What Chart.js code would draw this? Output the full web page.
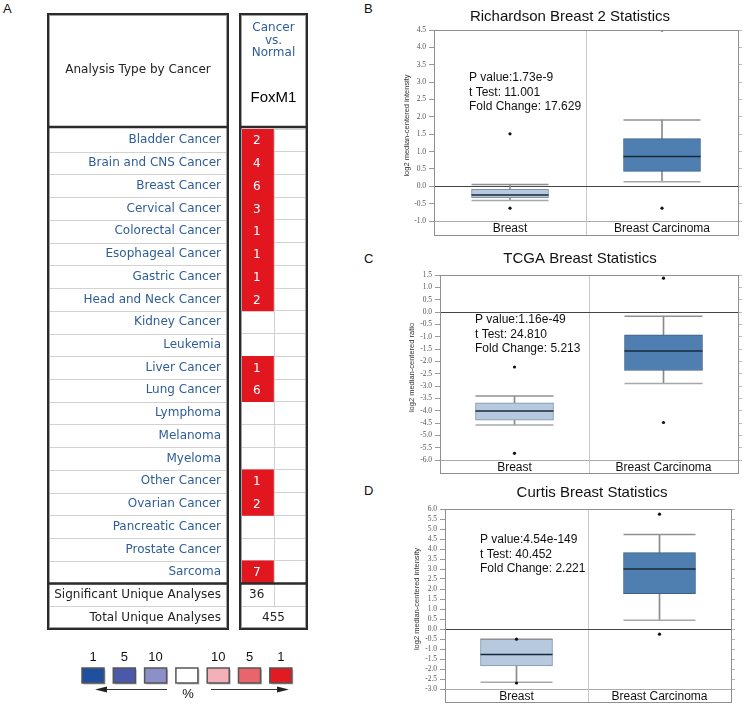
<!DOCTYPE html>
<html>
<head>
<meta charset="utf-8">
<script src="https://cdn.jsdelivr.net/npm/chart.js@4/dist/chart.umd.min.js"></script>
<style>
  body { margin: 0; background: #fff; width: 744px; height: 704px; position: relative; overflow: hidden; }
  canvas { position: absolute; }
  .panel { position: absolute; font: 13px "Liberation Sans", Arial, sans-serif; color: #111; }
</style>
</head>
<body>
<div class="panel" style="left:3px;top:1px">A</div>
<div class="panel" style="left:364px;top:1px">B</div>
<div class="panel" style="left:364px;top:251px">C</div>
<div class="panel" style="left:364px;top:483px">D</div>

<canvas id="tableA" width="320" height="704" style="left:0;top:0"></canvas>
<canvas id="chartB" width="384" height="240" style="left:360px;top:0"></canvas>
<canvas id="chartC" width="384" height="236" style="left:360px;top:240px"></canvas>
<canvas id="chartD" width="384" height="238" style="left:360px;top:466px"></canvas>

<script>
// ---------- DATA: panel A (Oncomine summary) ----------
const cancerTypes = [
  "Bladder Cancer", "Brain and CNS Cancer", "Breast Cancer", "Cervical Cancer",
  "Colorectal Cancer", "Esophageal Cancer", "Gastric Cancer", "Head and Neck Cancer",
  "Kidney Cancer", "Leukemia", "Liver Cancer", "Lung Cancer", "Lymphoma", "Melanoma",
  "Myeloma", "Other Cancer", "Ovarian Cancer", "Pancreatic Cancer", "Prostate Cancer", "Sarcoma"
];
const upCounts = [2, 4, 6, 3, 1, 1, 1, 2, 0, 0, 1, 6, 0, 0, 0, 1, 2, 0, 0, 7];
const summaryLabels = ["Significant Unique Analyses", "Total Unique Analyses"];
const summaryValues = [36, 455];
const geneName = "FoxM1";
const headerLines = ["Cancer", "vs.", "Normal"];
const legendTicks = ["1", "5", "10", "", "10", "5", "1"];
const legendColors = ["#1f4f9f", "#4a59a9", "#8d90c8", "#ffffff", "#f3b0b7", "#e8666b", "#e01b22"];

// ---------- DATA: box plots ----------
const groups = ["Breast", "Breast Carcinoma"];

// Richardson Breast 2
const richLow = [-0.41, 0.13];
const richQ1 = [-0.33, 0.43];
const richMedian = [-0.25, 0.86];
const richQ3 = [-0.09, 1.37];
const richHigh = [0.05, 1.91];
const richOutTop = [1.51, 4.50];
const richOutBottom = [-0.63, -0.63];
const richStats = ["P value:1.73e-9", "t Test: 11.001", "Fold Change: 17.629"];

// TCGA Breast
const tcgaLow = [-4.58, -2.90];
const tcgaQ1 = [-4.39, -2.37];
const tcgaMedian = [-4.01, -1.58];
const tcgaQ3 = [-3.68, -0.93];
const tcgaHigh = [-3.41, -0.17];
const tcgaOutTop = [-2.23, 1.37];
const tcgaOutBottom = [-5.73, -4.48];
const tcgaStats = ["P value:1.16e-49", "t Test: 24.810", "Fold Change: 5.213"];

// Curtis Breast
const curtisLow = [-2.66, 0.44];
const curtisQ1 = [-1.84, 1.77];
const curtisMedian = [-1.28, 3.00];
const curtisQ3 = [-0.51, 3.82];
const curtisHigh = [-0.51, 4.73];
const curtisOutTop = [-0.51, 5.74];
const curtisOutBottom = [-2.70, -0.26];
const curtisStats = ["P value:4.54e-149", "t Test: 40.452", "Fold Change: 2.221"];

const SANS = "'Liberation Sans', Arial, sans-serif";
const rowLabels = cancerTypes.concat(summaryLabels);

// ---------- PANEL A ----------
function frameBox(ctx, x0, y0, x1, y1) {
  ctx.lineWidth = 2;
  ctx.strokeStyle = "#2b2b2b";
  ctx.strokeRect(x0, y0, x1 - x0, y1 - y0);
  ctx.lineWidth = 1;
  ctx.strokeStyle = "#a0a0a0";
  ctx.strokeRect(x0 + 1.5, y0 + 1.5, x1 - x0 - 3, y1 - y0 - 3);
}

function hLine(ctx, x0, x1, yy, color, w) {
  ctx.strokeStyle = color;
  ctx.lineWidth = w;
  ctx.beginPath();
  ctx.moveTo(x0, yy);
  ctx.lineTo(x1, yy);
  ctx.stroke();
}

const tablePlugin = {
  id: "oncomineTable",
  afterDraw(chart) {
    const { ctx, chartArea: a, scales: { x, y } } = chart;
    const rowH = Math.abs(y.getPixelForValue(1) - y.getPixelForValue(0));
    const rowTop = (i) => y.getPixelForValue(i) - rowH / 2;
    const nC = cancerTypes.length;
    const leftL = 48, leftR = 228, top = 14;
    ctx.save();

    // row separators in label column
    for (let i = 1; i < rowLabels.length; i++) {
      hLine(ctx, leftL + 2, leftR - 2, Math.round(rowTop(i)) + 0.5, "#d2d2d2", 1);
    }
    // divider between up / down columns
    const xm = Math.round(x.getPixelForValue(1)) + 0.5;
    ctx.strokeStyle = "#d2d2d2";
    ctx.lineWidth = 1;
    ctx.beginPath();
    ctx.moveTo(xm, a.top);
    ctx.lineTo(xm, rowTop(nC + 1));
    ctx.stroke();

    // counts inside red cells
    const meta = chart.getDatasetMeta(0);
    ctx.font = "12px 'DejaVu Sans', sans-serif";
    ctx.textAlign = "center";
    ctx.textBaseline = "middle";
    ctx.fillStyle = "#fff";
    meta.data.forEach((el, i) => {
      if (upCounts[i]) ctx.fillText(String(upCounts[i]), (el.x + el.base) / 2, el.y + 1);
    });
    ctx.fillStyle = "#222";
    ctx.fillText(String(summaryValues[0]), x.getPixelForValue(0.5), y.getPixelForValue(nC));
    ctx.fillText(String(summaryValues[1]), x.getPixelForValue(1), y.getPixelForValue(nC + 1));

    // frames
    frameBox(ctx, leftL, top, leftR, a.bottom);
    frameBox(ctx, a.left, top, a.right, a.bottom);
    [a.top - 2, rowTop(nC)].forEach((yy) => {
      hLine(ctx, leftL, leftR, yy, "#2b2b2b", 2.5);
      hLine(ctx, a.left, a.right, yy, "#2b2b2b", 2.5);
    });

    // header texts
    ctx.fillStyle = "#222";
    ctx.fillText("Analysis Type by Cancer", (leftL + leftR) / 2, 70);
    const cx = (a.left + a.right) / 2;
    ctx.fillStyle = "#2f5e97";
    headerLines.forEach((t, i) => ctx.fillText(t, cx, 28 + i * 12.5));
    ctx.fillStyle = "#000";
    ctx.font = "15px " + SANS;
    ctx.fillText(geneName, cx, 98);

    // colour legend
    ctx.font = "13px " + SANS;
    legendColors.forEach((c, i) => {
      const lx = 82 + i * 31.3;
      ctx.fillStyle = "#bbb";
      ctx.fillRect(lx + 1.5, 669.5, 22, 15);
      ctx.fillStyle = c;
      ctx.fillRect(lx, 668, 22, 15);
      ctx.strokeStyle = "#555";
      ctx.lineWidth = 1.5;
      ctx.strokeRect(lx, 668, 22, 15);
      ctx.fillStyle = "#111";
      if (legendTicks[i]) ctx.fillText(legendTicks[i], lx + 11, 657);
    });
    ctx.fillText("%", 188, 694);
    hLine(ctx, 100, 167, 689.5, "#333", 1.2);
    hLine(ctx, 211, 283, 689.5, "#333", 1.2);
    ctx.fillStyle = "#222";
    ctx.beginPath();
    ctx.moveTo(95, 689.5); ctx.lineTo(107, 686.5); ctx.lineTo(107, 692.5); ctx.closePath(); ctx.fill();
    ctx.beginPath();
    ctx.moveTo(289, 689.5); ctx.lineTo(277, 686.5); ctx.lineTo(277, 692.5); ctx.closePath(); ctx.fill();
    ctx.restore();
  }
};

new Chart(document.getElementById("tableA"), {
  type: "bar",
  data: {
    labels: rowLabels,
    datasets: [{
      data: rowLabels.map((_, i) => (upCounts[i] ? [0, 1] : null)),
      backgroundColor: "#e2161e",
      borderWidth: 0,
      barPercentage: 1,
      categoryPercentage: 1
    }]
  },
  options: {
    indexAxis: "y",
    responsive: false,
    animation: false,
    events: [],
    layout: { padding: { left: 0, right: 13, top: 129, bottom: 75 } },
    plugins: { legend: { display: false }, tooltip: { enabled: false } },
    scales: {
      x: { display: false, min: 0, max: 2 },
      y: {
        type: "category",
        offset: true,
        grid: { offset: true, color: "#d2d2d2", drawTicks: false },
        border: { display: false },
        ticks: {
          autoSkip: false,
          padding: 19,
          font: { size: 12, family: "'DejaVu Sans', sans-serif" },
          color: (c) => (c.index >= cancerTypes.length ? "#222" : "#2f5e97")
        },
        afterFit: (s) => { s.width = 240; }
      }
    }
  },
  plugins: [tablePlugin]
});

// ---------- PANELS B, C, D ----------
const boxFrame = {
  id: "boxFrame",
  afterDraw(chart, args, o) {
    const { ctx, chartArea: a, scales: { x } } = chart;
    ctx.save();
    const mid = Math.round((x.getPixelForValue(0) + x.getPixelForValue(1)) / 2) + 0.5;
    ctx.strokeStyle = "#c8c8c8";
    ctx.lineWidth = 1;
    ctx.beginPath();
    ctx.moveTo(mid, a.bottom);
    ctx.lineTo(mid, a.bottom + o.band);
    ctx.stroke();
    ctx.strokeStyle = "#8f8f8f";
    ctx.strokeRect(Math.round(a.left) + 0.5, Math.round(a.top) + 0.5,
      Math.round(a.right - a.left), Math.round(a.bottom - a.top + o.band));

    ctx.fillStyle = "#111";
    ctx.textAlign = "center";
    ctx.textBaseline = "middle";
    ctx.font = "15px " + SANS;
    ctx.fillText(o.title, o.titleX, o.titleY);
    ctx.textAlign = "left";
    ctx.font = "12px " + SANS;
    o.stats.forEach((s, i) => ctx.fillText(s, a.left + 35, a.top + o.statsTop + i * 14.5));
    ctx.restore();
  }
};

function boxChart(id, d) {
  const half = d.boxWidth / 2;
  return new Chart(document.getElementById(id), {
    type: "bar",
    data: {
      labels: groups,
      datasets: [
        { type: "bar", data: d.low.map((v, i) => [v, d.high[i]]), backgroundColor: "#8a8a8a",
          barThickness: 1, grouped: false, order: 5 },
        { type: "bar", data: d.q1.map((v, i) => [v, d.q3[i]]),
          backgroundColor: ["#b6c9de", "#4f7fb0"], borderColor: ["#7e92a8", "#3b5f86"],
          borderWidth: 1, borderSkipped: false, barThickness: d.boxWidth, grouped: false, order: 4 },
        { type: "line", data: d.high, showLine: false, pointStyle: "line", pointRadius: half,
          pointBorderColor: "#909090", pointBorderWidth: 1.5, order: 3 },
        { type: "line", data: d.low, showLine: false, pointStyle: "line", pointRadius: half,
          pointBorderColor: "#a8a8a8", pointBorderWidth: 1.5, order: 3 },
        { type: "line", data: d.median, showLine: false, pointStyle: "line", pointRadius: half,
          pointBorderColor: "#18283a", pointBorderWidth: 1.5, order: 2 },
        { type: "line", data: d.outTop, showLine: false, pointStyle: "circle", pointRadius: 1.6,
          pointBackgroundColor: "#111", pointBorderWidth: 0, order: 1 },
        { type: "line", data: d.outBottom, showLine: false, pointStyle: "circle", pointRadius: 1.6,
          pointBackgroundColor: "#111", pointBorderWidth: 0, order: 1 }
      ]
    },
    options: {
      responsive: false,
      animation: false,
      events: [],
      layout: { padding: d.padding, autoPadding: false },
      plugins: {
        legend: { display: false },
        tooltip: { enabled: false },
        boxFrame: {
          band: d.band, title: d.title, titleX: d.titleX, titleY: d.titleY,
          stats: d.stats, statsTop: d.statsTop
        }
      },
      scales: {
        x: {
          type: "category",
          offset: true,
          grid: { offset: true, color: "#c8c8c8", drawTicks: false },
          border: { display: false },
          ticks: { padding: 0, color: "#111", font: { size: 12, family: SANS } },
          afterFit: (s) => { s.height = d.band; }
        },
        y: {
          min: d.min, max: d.max,
          ticks: { stepSize: 0.5, autoSkip: false, padding: 3, color: "#555",
            font: { size: 7.5, family: "'Liberation Serif', serif" },
            callback: (v) => Number(v).toFixed(1) },
          grid: {
            color: (c) => (c.tick && Math.abs(c.tick.value) < 1e-9 ? "#444" : (c.index === 0 ? "#aaa" : "rgba(0,0,0,0)")),
            tickColor: "#999", tickLength: 5
          },
          border: { display: false },
          title: { display: true, text: d.yTitle, color: "#333", font: { size: 7.5, family: SANS } },
          afterFit: (s) => { s.width = d.axisWidth; }
        },
        y2: {
          position: "right",
          min: d.min, max: d.max,
          ticks: { display: false, stepSize: 0.5, autoSkip: false },
          grid: { drawOnChartArea: false, tickColor: "#bbb", tickLength: 4 },
          border: { display: false },
          afterFit: (s) => { s.width = 4; }
        }
      }
    },
    plugins: [boxFrame]
  });
}

boxChart("chartB", {
  low: richLow, q1: richQ1, median: richMedian, q3: richQ3, high: richHigh,
  outTop: richOutTop, outBottom: richOutBottom, stats: richStats,
  title: "Richardson Breast 2 Statistics", yTitle: "log2 median-centered intensity",
  min: -1.0, max: 4.5, boxWidth: 77, band: 14, axisWidth: 36,
  padding: { left: 38, right: 2, top: 30, bottom: 5 },
  titleX: 210, titleY: 17, statsTop: 48
});

boxChart("chartC", {
  low: tcgaLow, q1: tcgaQ1, median: tcgaMedian, q3: tcgaQ3, high: tcgaHigh,
  outTop: tcgaOutTop, outBottom: tcgaOutBottom, stats: tcgaStats,
  title: "TCGA Breast Statistics", yTitle: "log2 median-centered ratio",
  min: -6.0, max: 1.5, boxWidth: 78, band: 13, axisWidth: 37,
  padding: { left: 43, right: 2, top: 35, bottom: 3 },
  titleX: 220, titleY: 19, statsTop: 45
});

boxChart("chartD", {
  low: curtisLow, q1: curtisQ1, median: curtisMedian, q3: curtisQ3, high: curtisHigh,
  outTop: curtisOutTop, outBottom: curtisOutBottom, stats: curtisStats,
  title: "Curtis Breast Statistics", yTitle: "log2 median-centered intensity",
  min: -3.0, max: 6.0, boxWidth: 72, band: 13, axisWidth: 37,
  padding: { left: 48, right: 9, top: 43, bottom: 2 },
  titleX: 232, titleY: 27, statsTop: 31
});
</script>
</body>
</html>
